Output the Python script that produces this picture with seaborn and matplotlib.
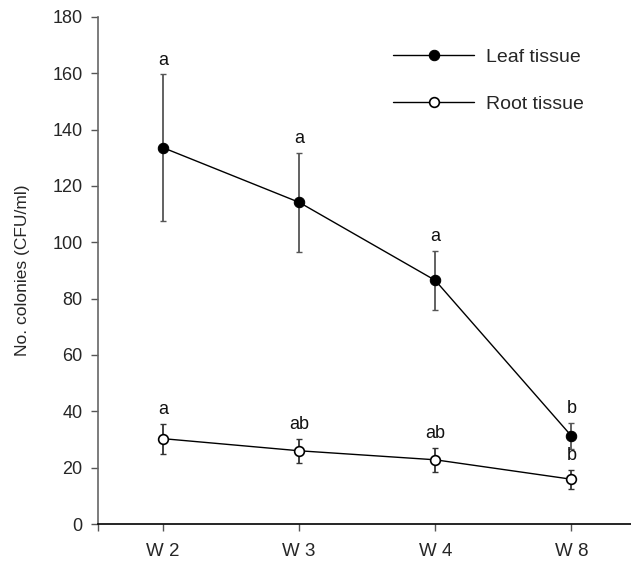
import matplotlib
matplotlib.use("Agg")
import matplotlib.pyplot as plt
import seaborn as sns
import pandas as pd
import numpy as np

weeks = ["W 2", "W 3", "W 4", "W 8"]
leaf_mean = [133.6, 114.2, 86.5, 31.3]
leaf_err = [26.0, 17.5, 10.5, 4.7]
root_mean = [30.3, 26.0, 22.8, 15.9]
root_err = [5.3, 4.2, 4.2, 3.3]
leaf_letters = ["a", "a", "a", "b"]
root_letters = ["a", "ab", "ab", "b"]

sns.set_theme(style="white")
plt.rcParams["font.family"] = ["Liberation Sans", "DejaVu Sans"]

pos = list(range(len(weeks)))
df = pd.DataFrame({
    "pos": pos * 2,
    "value": leaf_mean + root_mean,
    "tissue": ["Leaf tissue"] * 4 + ["Root tissue"] * 4,
})

fig = plt.figure(figsize=(6.31, 5.62), dpi=100)
ax = fig.add_axes([0.1553, 0.0676, 0.845, 0.9022])

# error bars
ax.errorbar(pos, leaf_mean, yerr=leaf_err, fmt="none", ecolor="#555555",
            elinewidth=1.3, capsize=2.5, capthick=1.0, zorder=1)
ax.errorbar(pos, root_mean, yerr=root_err, fmt="none", ecolor="#333333",
            elinewidth=1.3, capsize=2.5, capthick=1.0, zorder=1)

sns.lineplot(data=df[df.tissue == "Leaf tissue"], x="pos", y="value", ax=ax,
             color="black", linewidth=1.0, marker="o", markersize=7.5,
             markerfacecolor="black", markeredgecolor="black",
             label="Leaf tissue", zorder=3)
sns.lineplot(data=df[df.tissue == "Root tissue"], x="pos", y="value", ax=ax,
             color="black", linewidth=1.0, marker="o", markersize=7,
             markerfacecolor="white", markeredgecolor="black", markeredgewidth=1.2,
             label="Root tissue", zorder=3)

for i in pos:
    ax.text(i, leaf_mean[i] + leaf_err[i] + 2.0, leaf_letters[i], ha="center",
            va="bottom", fontsize=13, color="#111111")
    ax.text(i, root_mean[i] + root_err[i] + 2.0, root_letters[i], ha="center",
            va="bottom", fontsize=13, color="#111111")

ax.set_xlim(-0.478, 3.44)
ax.set_ylim(0, 180)
ax.set_yticks(np.arange(0, 181, 20))
ax.set_xticks(pos)
ax.set_xticklabels(weeks, fontsize=13.5)
ax.set_xticks([-0.478], minor=True)
ax.tick_params(axis="y", labelsize=13, length=5, width=1, color="#555555",
               direction="out", left=True, pad=6)
ax.tick_params(axis="x", which="both", length=5, width=1, color="#555555",
               direction="out", bottom=True, pad=9)
ax.set_xlabel("")
ax.set_ylabel("No. colonies (CFU/ml)", fontsize=12.5, labelpad=16)

for s in ["top", "right"]:
    ax.spines[s].set_visible(False)
ax.spines["left"].set_color("#666666")
ax.spines["left"].set_linewidth(1.2)
ax.spines["bottom"].set_color("black")
ax.spines["bottom"].set_linewidth(1.2)

leg = ax.legend(loc="upper left", bbox_to_anchor=(0.52, 0.972), frameon=False,
                fontsize=14, handlelength=4.2, handletextpad=0.6,
                labelspacing=1.5)

fig.savefig("out.png", dpi=100)
